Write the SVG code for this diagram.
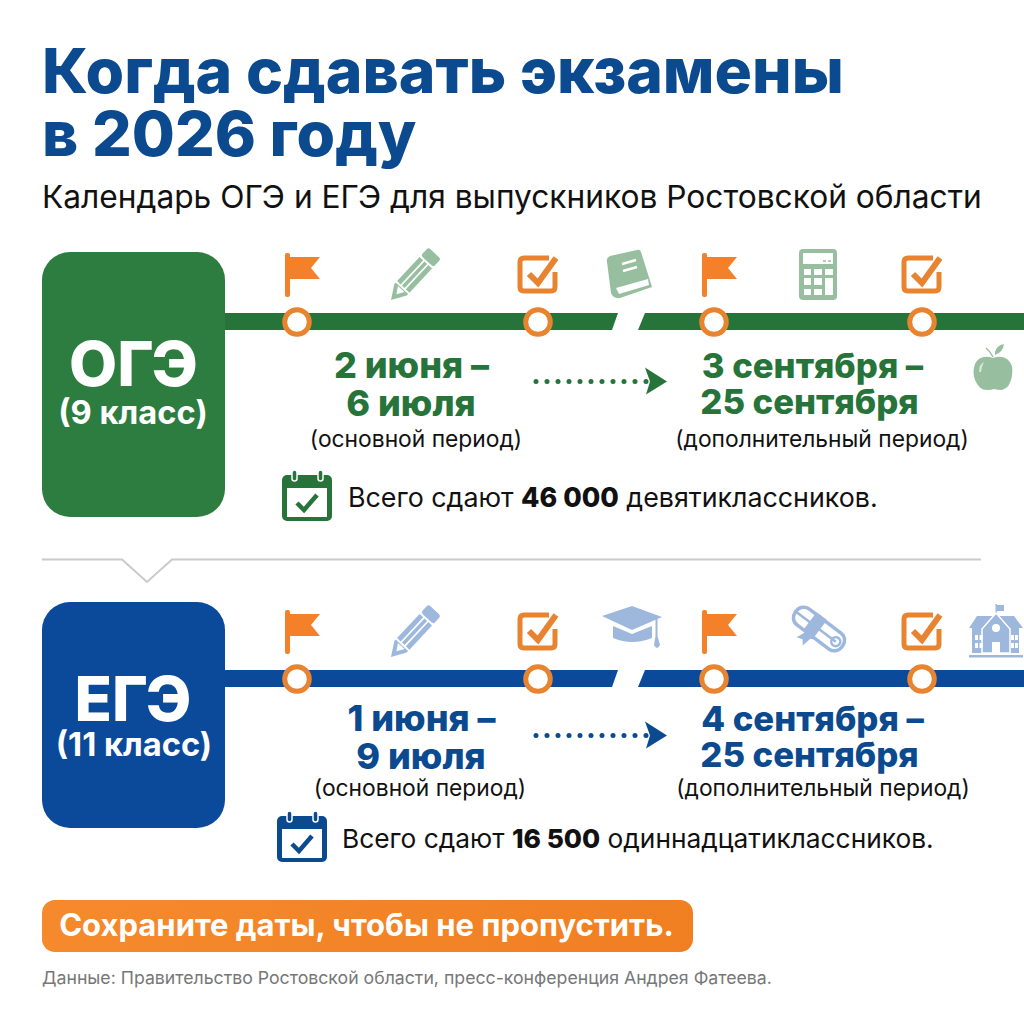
<svg xmlns="http://www.w3.org/2000/svg" xmlns:xlink="http://www.w3.org/1999/xlink" width="1024" height="1024" viewBox="0 0 1024 1024">
<style>
text{font-family:Inter,"Liberation Sans",sans-serif}
.t{font-weight:800;font-size:62.400px;fill:#0b4a8f}
.sub{font-size:31.700px;fill:#111}
.big{font-weight:800;fill:#fff;text-anchor:middle}
.cl{font-weight:700;font-size:32.700px;fill:#fff;text-anchor:middle}
.dg{font-weight:800;font-size:36px;fill:#27743a;text-anchor:middle}
.db{font-weight:800;font-size:36px;fill:#0b4a8f;text-anchor:middle}
.r{font-size:34.700px}
.per{font-size:22.800px;fill:#111;text-anchor:middle}
.tot{fill:#111}
.tot tspan{font-weight:800}
.ring{fill:#fff;stroke:#e8832f;stroke-width:5}
.lg{fill:#97bf9f}.lb{fill:#9db8dc}
</style>
<defs>
<g id="flag"><rect x="285" y="253" width="5" height="44" rx="2" fill="#f4812a"/><path d="M285 257H320L311 268L320 279H285Z" fill="#f4812a"/></g>
<g id="chk" fill="none" stroke="#e8832f"><path d="M549 258H524Q520 258 520 262V287Q520 291 524 291H551Q555 291 555 287V272" stroke-width="5"/><path d="M529 274L538 283L556 258" stroke-width="6"/></g>
<g id="pencil"><path d="M0 0L14 -8.500L16 -8.500V8.500L14 8.500Z"/><path d="M8 0L15 -4.500V4.500Z" fill="#fff"/><rect x="18" y="-8.500" width="33" height="5"/><rect x="18" y="-1.800" width="33" height="3.600"/><rect x="18" y="3.500" width="33" height="5"/><rect x="53" y="-8.500" width="11" height="17" rx="2.500"/></g>
<g id="cal"><rect x="0" y="5" width="50" height="46" rx="5" fill="currentColor"/><rect x="5" y="18" width="40" height="29" fill="#fff"/><rect x="10" y="0" width="5" height="11" rx="2.500" fill="currentColor" stroke="#fff" stroke-width="1.500"/><rect x="36" y="0" width="5" height="11" rx="2.500" fill="currentColor" stroke="#fff" stroke-width="1.500"/><path d="M15 33L22 40L35 25" fill="none" stroke="currentColor" stroke-width="4.500"/></g>
<g id="dots"><circle cx="536" r="2.500"/><circle cx="547" r="2.500"/><circle cx="558" r="2.500"/><circle cx="569" r="2.500"/><circle cx="580" r="2.500"/><circle cx="591" r="2.500"/><circle cx="602" r="2.500"/><circle cx="613" r="2.500"/><circle cx="624" r="2.500"/><circle cx="635" r="2.500"/><circle cx="646" r="2.500"/><path d="M645 -14L667 0L646 13L650 0Z"/></g>
<linearGradient id="og" x1="0" x2="1"><stop offset="0" stop-color="#f58a2c"/><stop offset="1" stop-color="#f07f22"/></linearGradient>
</defs>

<g id="title">
<text class="t" x="42" y="93">Когда сдавать экзамены</text>
<text class="t" x="42" y="156">в 2026 году</text>
<text class="sub" x="42" y="208">Календарь ОГЭ и ЕГЭ для выпускников Ростовской области</text>
</g>

<g id="connectors">
<path d="M225 313H618L612 330H225ZM645 313H1024V330H638Z" fill="#27743a"/>
<path d="M225 670H618L612 687H225ZM645 670H1024V687H638Z" fill="#0b4a9a"/>
<path d="M42 559.500H122L147 582L172 559.500H981" fill="none" stroke="#cacaca" stroke-width="2"/>
<use xlink:href="#dots" y="381.500" fill="#27743a"/>
<use xlink:href="#dots" y="735.500" fill="#0b4a8f"/>
</g>

<g id="oge">
<rect x="42" y="252" width="183" height="265" rx="28" fill="#2c7d3f"/>
<text class="big" x="133.500" y="386" font-size="62.400">ОГЭ</text>
<text class="cl" x="133" y="424">(9 класс)</text>
</g>
<g id="oge-timeline">
<use xlink:href="#flag"/>
<use xlink:href="#chk"/>
<use xlink:href="#flag" x="417"/>
<use xlink:href="#chk" x="384"/>
<circle class="ring" cx="297" cy="322" r="12.300"/><circle class="ring" cx="538" cy="322" r="12.300"/><circle class="ring" cx="714" cy="322" r="12.300"/><circle class="ring" cx="922" cy="322" r="12.300"/>
<use id="oge-pencil" xlink:href="#pencil" class="lg" transform="translate(391 300) rotate(-47)"/>
<g id="oge-book" class="lg"><path d="M607 262Q606 258 610 256L637 250Q640 249 641 252L652 287L620 298Q613 299 611 293Z"/><path d="M616 288L648 279L649 285L619 294Z" fill="#fff"/><path d="M622 264L636 260M623 271L637 267" stroke="#fff" stroke-width="2.500"/></g>
<g id="oge-calc"><rect x="799" y="249" width="38" height="51" rx="4" class="lg"/><rect x="803" y="253" width="30" height="11" fill="#fff"/><path d="M804 269h7v6h-7zM814 269h8v6h-8zM825 269h8v6h-8zM804 278h7v7h-7zM814 278h8v7h-8zM804 289h7v6h-7zM814 289h8v6h-8zM825 278h8v17h-8z" fill="#fff"/><path d="M823 261h3M828 261h3" stroke="#6f9a7a" stroke-width="1.200"/></g>
<g id="oge-apple" class="lg"><path d="M993 358Q980 354 975 364Q972 372 975 380Q979 390 987 390Q992 390 994 389Q997 390 1002 390Q1010 388 1012 376Q1014 364 1007 359Q1001 355 993 358Z"/><path d="M993 357Q990 351 986 348" fill="none" stroke="#97bf9f" stroke-width="1.500"/><path d="M995 352Q997 345 1004 344Q1003 352 995 355Z"/><path d="M979 372Q979 364 984 362Q982 366 981 372Z" fill="#fff" opacity=".6"/></g>
<text class="dg" x="411.500" y="378">2 июня –</text>
<text class="dg" x="411" y="416">6 июля</text>
<text class="per" x="416" y="447">(основной период)</text>
<text class="dg r" x="812.500" y="378">3 сентября –</text>
<text class="dg r" x="809.500" y="414">25 сентября</text>
<text class="per" x="822" y="447">(дополнительный период)</text>
</g>
<g id="oge-total">
<use xlink:href="#cal" x="282" y="470" color="#27743a"/>
<text class="tot" x="348" y="507" font-size="26.800">Всего сдают <tspan>46 000</tspan> девятиклассников.</text>
</g>

<g id="ege">
<rect x="42" y="602" width="183" height="226" rx="28" fill="#0b4a9a"/>
<text class="big" x="133" y="721" font-size="61.400">ЕГЭ</text>
<text class="cl" x="134" y="756">(11 класс)</text>
</g>
<g id="ege-timeline">
<use xlink:href="#flag" y="357"/>
<use xlink:href="#chk" y="357"/>
<use xlink:href="#flag" x="417" y="357"/>
<use xlink:href="#chk" x="384" y="357"/>
<circle class="ring" cx="297" cy="679" r="12.300"/><circle class="ring" cx="538" cy="679" r="12.300"/><circle class="ring" cx="714" cy="679" r="12.300"/><circle class="ring" cx="922" cy="679" r="12.300"/>
<use id="ege-pencil" xlink:href="#pencil" class="lb" transform="translate(391 657) rotate(-47)"/>
<g id="ege-cap" class="lb"><path d="M602 616L632 606L662 617L632 630Z"/><path d="M613 626L632 634L652 626V638Q632 646 613 638Z"/><path d="M655.500 619H657.500V636L660 645Q657 651 654 645L655.500 636Z"/></g>
<g id="ege-diploma" transform="translate(819 629) rotate(37)"><rect x="-29" y="-10" width="58" height="20" rx="9" fill="none" stroke="#9db8dc" stroke-width="3.500"/><path d="M-28 0H21" fill="none" stroke="#9db8dc" stroke-width="2.500"/><circle cx="21" cy="0" r="4.500" fill="none" stroke="#9db8dc" stroke-width="2.500"/><path d="M-12 -12H1V12L-1 13L-3 23L-7 18L-13 20L-9 11L-12 11Z" fill="#9db8dc"/></g>
<g id="ege-school" class="lb"><rect x="969" y="655" width="54" height="2.500"/><rect x="995.500" y="604" width="1.500" height="12"/><path d="M997 605H1004V611H997Z"/><path d="M972 628H1019V653H972Z"/><path d="M969 628L977 616H1014L1023 628Z"/><path d="M996 613L1010 629V653H982V629Z" stroke="#fff" stroke-width="1.500"/><g fill="#fff"><circle cx="996" cy="628" r="4"/><path d="M992 653V642H1000V653ZM975 635h3v5h-3zM979.500 635h3v5h-3zM975 643h3v5h-3zM979.500 643h3v5h-3zM1011 635h3v5h-3zM1015 635h3v5h-3zM1011 643h3v5h-3zM1015 643h3v5h-3z"/></g></g>
<text class="db" x="421.500" y="731">1 июня –</text>
<text class="db" x="421" y="769">9 июля</text>
<text class="per" x="420" y="796">(основной период)</text>
<text class="db r" x="812.500" y="731">4 сентября –</text>
<text class="db r" x="809.500" y="767">25 сентября</text>
<text class="per" x="823" y="796">(дополнительный период)</text>
</g>
<g id="ege-total">
<use xlink:href="#cal" x="277" y="811" color="#0b4a8f"/>
<text class="tot" x="342" y="848" font-size="26.300">Всего сдают <tspan>16 500</tspan> одиннадцатиклассников.</text>
</g>

<g id="cta">
<rect x="42" y="900" width="651" height="52" rx="13" fill="url(#og)"/>
<text x="366.500" y="936" text-anchor="middle" font-weight="700" font-size="31" fill="#fff">Сохраните даты, чтобы не пропустить.</text>
</g>
<text id="source" x="42" y="984" font-size="17.700" fill="#777">Данные: Правительство Ростовской области, пресс-конференция Андрея Фатеева.</text>
</svg>
